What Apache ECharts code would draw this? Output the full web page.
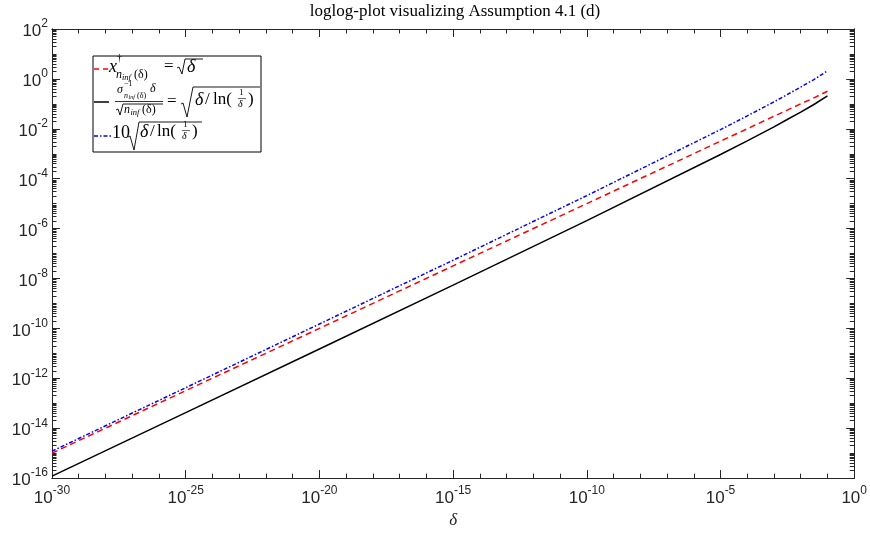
<!DOCTYPE html>
<html>
<head>
<meta charset="utf-8">
<script src="https://cdn.jsdelivr.net/npm/echarts@6/dist/echarts.min.js"></script>
<style>
  html, body { margin: 0; padding: 0; background: #fff; }
  #chart { width: 870px; height: 534px; }
</style>
</head>
<body>
<div id="chart"></div>
<script>
// Sample points of δ and the three curves (log-log plot)
const deltas      = [1e-30, 1e-25, 1e-20, 1e-15, 1e-10, 1e-5, 1e-4, 1e-3, 3e-3, 1e-2, 3e-2, 1e-1];
const sqrtDelta   = [1.0e-15, 3.2e-13, 1.0e-10, 3.2e-8, 1.0e-5, 3.2e-3, 1.0e-2, 3.2e-2, 5.5e-2, 0.10, 0.17, 0.32];
const ratioCurve  = [1.2e-16, 4.2e-14, 1.5e-11, 5.4e-9, 2.1e-6, 9.3e-4, 3.3e-3, 1.2e-2, 2.3e-2, 4.7e-2, 9.2e-2, 0.21];
const scaledCurve = [1.2e-15, 4.2e-13, 1.5e-10, 5.4e-8, 2.1e-5, 9.3e-3, 3.3e-2, 0.12, 0.23, 0.47, 0.92, 2.1];

// Axis decades (exponents of 10)
const xMinExp = -30, xMaxExp = 0;
const yMinExp = -16, yMaxExp = 2;
const xLabelExps = [-30, -25, -20, -15, -10, -5, 0];
const yLabelExps = [-16, -14, -12, -10, -8, -6, -4, -2, 0, 2];

const AXIS = '#262626';
const SANS = '"Liberation Sans", Arial, Helvetica, sans-serif';
const SERIF = '"Liberation Serif", "Times New Roman", serif';

function range(a, b) { const r = []; for (let i = a; i <= b; i++) r.push(i); return r; }
const xAllExps = range(xMinExp, xMaxExp);
// minor y ticks: 2..9 inside each decade plus the unlabeled decades
const yMinorVals = [];
for (let k = yMinExp; k < yMaxExp; k++) {
  for (let m = 1; m <= 9; m++) {
    if (m === 1 && yLabelExps.indexOf(k) >= 0) continue;
    yMinorVals.push(k + Math.log10(m));
  }
}

const toLog = (xs, ys) => xs.map((x, i) => [Math.log10(x), Math.log10(ys[i])]);

const powRich = {
  b: { fontFamily: SANS, fontSize: 17, color: AXIS, lineHeight: 22, verticalAlign: 'bottom' },
  e: { fontFamily: SANS, fontSize: 12, color: AXIS, lineHeight: 22, verticalAlign: 'top' }
};
const powFmt = v => '{b|10}{e|' + Math.round(v) + '}';

function xAx(pos, custom, len, labels) {
  return {
    type: 'value', min: xMinExp, max: xMaxExp, position: pos,
    axisLine: { show: true, onZero: false, lineStyle: { color: AXIS, width: 1 } },
    axisTick: { show: true, inside: true, length: len, customValues: custom, lineStyle: { color: AXIS, width: 1 } },
    axisLabel: labels ? { show: true, customValues: xLabelExps, formatter: powFmt, rich: powRich, margin: 7 } : { show: false },
    splitLine: { show: false },
    name: labels ? 'δ' : '', nameLocation: 'middle', nameGap: 33,
    nameTextStyle: { fontFamily: SERIF, fontStyle: 'italic', fontSize: 17, color: AXIS }
  };
}
function yAx(pos, custom, len, labels) {
  return {
    type: 'value', min: yMinExp, max: yMaxExp, position: pos,
    axisLine: { show: true, onZero: false, lineStyle: { color: AXIS, width: 1 } },
    axisTick: { show: true, inside: true, length: len, customValues: custom, lineStyle: { color: AXIS, width: 1 } },
    axisLabel: labels ? { show: true, customValues: yLabelExps, formatter: powFmt, rich: powRich, margin: 4 } : { show: false },
    splitLine: { show: false }
  };
}

// ---- legend drawn as a boxed block of math text ----
const g = [];
function t(x, y, s, size, italic) {
  g.push({ type: 'text', z: 101, silent: true,
    style: { text: s, x: x, y: y, fill: '#000',
      font: (italic ? 'italic ' : '') + size + 'px ' + SERIF,
      align: 'left', verticalAlign: 'middle', textAlign: 'left', textVerticalAlign: 'middle' } });
}
function ln(x1, y1, x2, y2, color, width, dash) {
  g.push({ type: 'line', z: 101, silent: true, shape: { x1, y1, x2, y2 },
    style: { stroke: color, lineWidth: width, lineDash: dash || null } });
}
function radical(pts) {
  g.push({ type: 'polyline', z: 101, silent: true, shape: { points: pts },
    style: { stroke: '#000', lineWidth: 0.9, fill: null } });
}
g.push({ type: 'rect', z: 100, silent: true, shape: { x: 93, y: 56, width: 168, height: 96 },
  style: { fill: '#fff', stroke: '#000', lineWidth: 1 } });

// entry 1: x^†_{n_inf(δ)} = √δ
ln(94, 69, 108, 69, '#ff0000', 1.5, [5, 4]);
t(109, 67, 'x', 18, true);
t(117, 58, '†', 10, false);
t(116, 75, 'n', 12, true);
t(122, 77.5, 'inf', 8.5, true);
t(134, 75, '(δ)', 12, false);
t(164, 67, '=', 17, false);
radical([[177, 68], [179, 67], [182, 74], [185, 59], [203, 59]]);
t(187, 67, 'δ', 18, true);

// entry 2: σ^{-1}_{n_inf(δ)} δ / √n_inf(δ) = √(δ / ln(1/δ))
ln(94, 102, 109, 102, '#000', 1.5);
t(117, 90, 'σ', 12, true);
t(124, 84, '−1', 8, false);
t(124, 95.5, 'n', 8, true);
t(128.5, 97, 'inf', 6, true);
t(137, 95.5, '(δ)', 8, false);
t(150, 89, 'δ', 12, true);
ln(115, 101.5, 163, 101.5, '#000', 0.8);
radical([[116, 110], [118, 109], [120, 115], [123, 104], [163, 104]]);
t(124, 110, 'n', 12, true);
t(130.5, 112.5, 'inf', 8.5, true);
t(142, 110, '(δ)', 12, false);
t(167, 102, '=', 17, false);
radical([[181, 104], [183, 103], [187, 117], [193, 87], [260, 87]]);
t(195, 100, 'δ', 18, true);
t(205, 100, '/', 17, false);
t(213, 100, 'ln(', 17, false);
t(239, 93, '1', 9, false);
ln(238, 98.5, 246, 98.5, '#000', 0.6);
t(238, 104.5, 'δ', 10, true);
t(248, 100, ')', 17, false);

// entry 3: 10 √(δ / ln(1/δ))
ln(94, 136, 111, 136, '#0000ff', 1.5, [4, 2, 1.5, 2]);
t(112, 133, '10', 18, false);
radical([[128, 137], [130, 136], [134, 150], [139, 122], [202, 122]]);
t(140, 132, 'δ', 18, true);
t(150, 132, '/', 17, false);
t(157, 132, 'ln(', 17, false);
t(183, 125, '1', 9, false);
ln(182, 130.5, 190, 130.5, '#000', 0.6);
t(182, 136.5, 'δ', 10, true);
t(192, 132, ')', 17, false);

// title
g.push({ type: 'text', silent: true,
  style: { text: 'loglog-plot visualizing Assumption 4.1 (d)', x: 455, y: 12,
    font: '17px ' + SERIF, fill: '#000',
    align: 'center', verticalAlign: 'middle', textAlign: 'center', textVerticalAlign: 'middle' } });

const chart = echarts.init(document.getElementById('chart'), null, { renderer: 'canvas' });
chart.setOption({
  backgroundColor: '#fff',
  animation: false,
  grid: { left: 52, right: 12, top: 29, bottom: 47, containLabel: false },
  xAxis: [
    xAx('bottom', xLabelExps, 8, true),
    xAx('bottom', xAllExps, 4.5, false),
    xAx('top', xLabelExps, 8, false),
    xAx('top', xAllExps, 4.5, false)
  ],
  yAxis: [
    yAx('left', yLabelExps, 8, true),
    yAx('left', yMinorVals, 4.5, false),
    yAx('right', yLabelExps, 8, false),
    yAx('right', yMinorVals, 4.5, false)
  ],
  series: [
    { name: 'sqrt', type: 'line', data: toLog(deltas, sqrtDelta), showSymbol: false, z: 3,
      lineStyle: { color: '#ff0000', width: 1.5, type: [6, 4] } },
    { name: 'ratio', type: 'line', data: toLog(deltas, ratioCurve), showSymbol: false, z: 2,
      lineStyle: { color: '#000000', width: 1.5, type: 'solid' } },
    { name: 'scaled', type: 'line', data: toLog(deltas, scaledCurve), showSymbol: false, z: 4,
      lineStyle: { color: '#0000ff', width: 1.5, type: [4, 2, 1.5, 2] } }
  ],
  graphic: g
});
</script>
</body>
</html>
